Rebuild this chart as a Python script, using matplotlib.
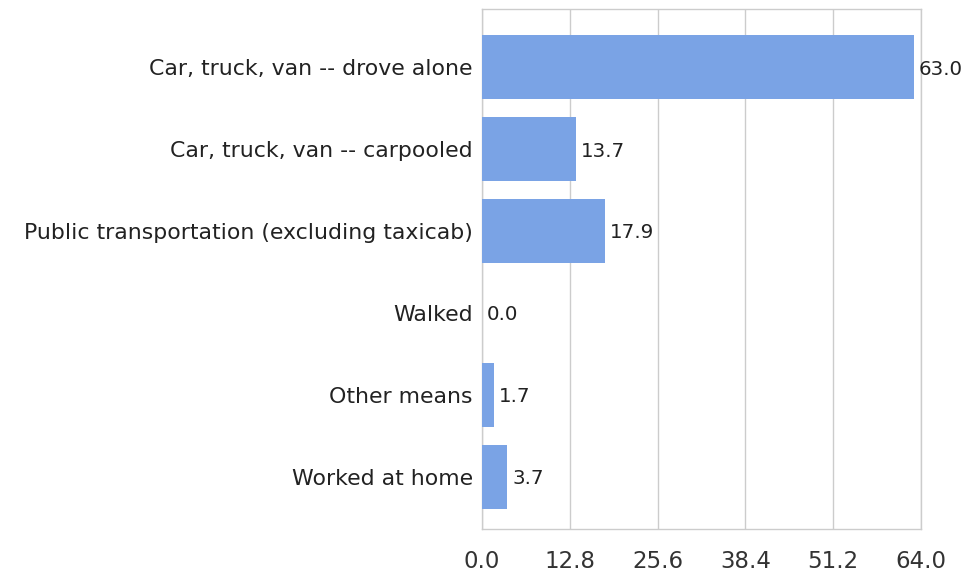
import matplotlib
matplotlib.use("Agg")
import matplotlib.pyplot as plt
import numpy as np

plt.rcParams['font.family'] = ['DejaVu Sans']

categories = ["Car, truck, van -- drove alone", "Car, truck, van -- carpooled",
              "Public transportation (excluding taxicab)", "Walked", "Other means",
              "Worked at home"]
values = [63.0, 13.7, 17.9, 0.0, 1.7, 3.7]
xticks = [0.0, 12.8, 25.6, 38.4, 51.2, 64.0]

fig = plt.figure(figsize=(9.66, 5.74), dpi=100)
ax = fig.add_axes([482/966, 1-529/574, (921-482)/966, 520/574])

y = np.arange(len(categories))
ax.barh(y, values, height=0.78, color="#7aa3e5", zorder=3)
for yi, v in zip(y, values):
    ax.annotate(f"{v:.1f}", xy=(v, yi), xytext=(3.5, 0), textcoords="offset points",
                va="center_baseline", ha="left", fontsize=14.3, color="#222222", zorder=4)

ax.set_xlim(0, 64.0)
ax.set_ylim(5.64, -0.71)
ax.set_xticks(xticks)
ax.set_xticklabels([f"{t:.1f}" for t in xticks], fontsize=16.5, color="#333333")
ax.set_yticks(y)
ax.set_yticklabels(categories, fontsize=15.8, color="#222222")
ax.tick_params(length=0)
ax.tick_params(axis="y", pad=6.5)
ax.tick_params(axis="x", pad=15)
ax.grid(axis="x", color="#cccccc", linewidth=1, zorder=0)
for s in ax.spines.values():
    s.set_color("#cccccc")
    s.set_linewidth(1)

fig.savefig("out.png", dpi=100)
